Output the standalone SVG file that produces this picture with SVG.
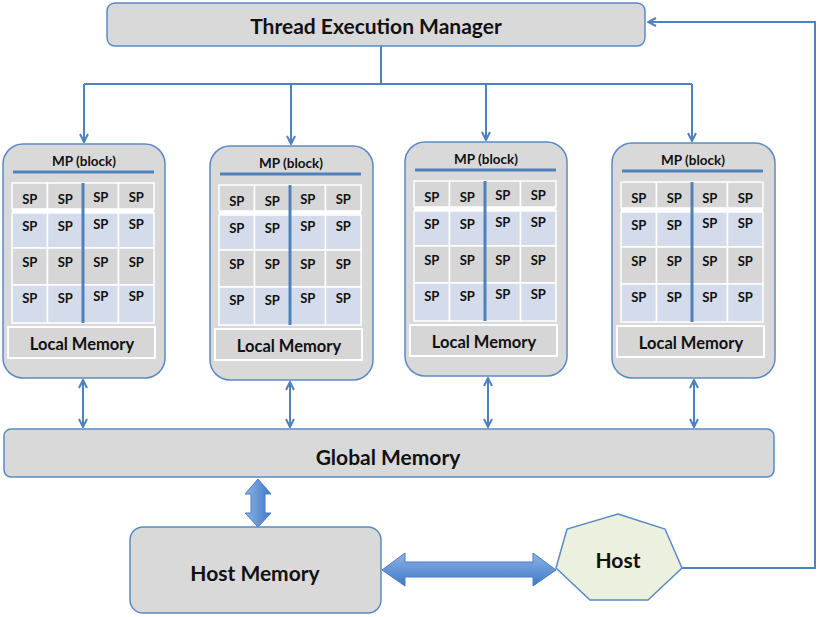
<svg xmlns="http://www.w3.org/2000/svg" width="820" height="617" viewBox="0 0 820 617">
<style>
.box{fill:#d9d9d9;stroke:#5a8ac6;stroke-width:1.5}
.t{font-family:Lato,"Liberation Sans",sans-serif;font-weight:bold;fill:#111;text-anchor:middle}
.big{font-size:21px}
.mp{font-size:13.5px}
.sp{font-size:13px}
.lm{font-size:16.5px}
.blu{stroke:#4f81bd;stroke-width:3}
.g{fill:#d6d6d6;stroke:#fff;stroke-width:1.5}
.b{fill:#d4dbea;stroke:#fff;stroke-width:1.5}
.lmb{fill:#d6d6d6;stroke:#fff;stroke-width:2}
.con{fill:none;stroke:#4f81bd;stroke-width:2}
</style>
<defs>
<marker id="ah" viewBox="0 0 10 10" refX="9" refY="5" markerWidth="10" markerHeight="10" markerUnits="userSpaceOnUse" orient="auto-start-reverse">
<path d="M1,1 L9,5 L1,9" fill="none" stroke="#4f81bd" stroke-width="2"/>
</marker>
<linearGradient id="fat" x1="0" y1="0" x2="0" y2="1">
<stop offset="0" stop-color="#8db4e6"/>
<stop offset="1" stop-color="#3f78c8"/>
</linearGradient>
<linearGradient id="fatv" x1="0" y1="0" x2="1" y2="0">
<stop offset="0" stop-color="#8db4e6"/>
<stop offset="1" stop-color="#3f78c8"/>
</linearGradient>
</defs>

<g id="connectors">
<path class="con" d="M381,46 V84"/>
<path class="con" d="M84,84 H692"/>
<path class="con" d="M84,84 V142" marker-end="url(#ah)"/>
<path class="con" d="M291,84 V144" marker-end="url(#ah)"/>
<path class="con" d="M486,84 V140" marker-end="url(#ah)"/>
<path class="con" d="M692,84 V141" marker-end="url(#ah)"/>
<path class="con" d="M83,380 V427" marker-start="url(#ah)" marker-end="url(#ah)"/>
<path class="con" d="M290,382 V427" marker-start="url(#ah)" marker-end="url(#ah)"/>
<path class="con" d="M488,378 V427" marker-start="url(#ah)" marker-end="url(#ah)"/>
<path class="con" d="M694,380 V427" marker-start="url(#ah)" marker-end="url(#ah)"/>
<path class="con" d="M682,568 H815 V22 H648" marker-end="url(#ah)"/>
<path d="M258,479 L271,494 H265 V513 H271 L258,527 L245,513 H251 V494 H245 Z" fill="url(#fatv)" stroke="#4a7cc0" stroke-width="1"/>
<path d="M382,570 L405,553 V562 H533 V553 L556,570 L533,586 V577 H405 V586 Z" fill="url(#fat)" stroke="#4a7cc0" stroke-width="1"/>
</g>

<g id="tem">
<rect class="box" x="107" y="3" width="538" height="43" rx="8"/>
<text class="t big" x="376" y="34">Thread Execution Manager</text>
</g>

<g id="mp1" transform="translate(3,144)">
<rect class="box" x="0" y="0" width="162" height="234" rx="20"/>
<text class="t mp" x="81" y="22">MP (block)</text>
<line class="blu" x1="10" y1="28" x2="151" y2="28"/>
<rect x="9" y="39" width="142" height="140" fill="#fff"/>
<rect class="g" x="9" y="39" width="35.5" height="26"/><rect class="g" x="44.5" y="39" width="35.5" height="26"/><rect class="g" x="80" y="39" width="35.5" height="26"/><rect class="g" x="115.5" y="39" width="35.5" height="26"/>
<rect class="b" x="9" y="69" width="35.5" height="35"/><rect class="b" x="44.5" y="69" width="35.5" height="35"/><rect class="b" x="80" y="69" width="35.5" height="35"/><rect class="b" x="115.5" y="69" width="35.5" height="35"/>
<rect class="g" x="9" y="104" width="35.5" height="37"/><rect class="g" x="44.5" y="104" width="35.5" height="37"/><rect class="g" x="80" y="104" width="35.5" height="37"/><rect class="g" x="115.5" y="104" width="35.5" height="37"/>
<rect class="b" x="9" y="141" width="35.5" height="38"/><rect class="b" x="44.5" y="141" width="35.5" height="38"/><rect class="b" x="80" y="141" width="35.5" height="38"/><rect class="b" x="115.5" y="141" width="35.5" height="38"/>
<line class="blu" x1="80" y1="39" x2="80" y2="179"/>
<text class="t sp" x="26.75" y="60">SP</text><text class="t sp" x="62.25" y="60">SP</text><text class="t sp" x="97.75" y="58">SP</text><text class="t sp" x="133.25" y="58">SP</text>
<text class="t sp" x="26.75" y="87">SP</text><text class="t sp" x="62.25" y="87">SP</text><text class="t sp" x="97.75" y="85">SP</text><text class="t sp" x="133.25" y="85">SP</text>
<text class="t sp" x="26.75" y="123">SP</text><text class="t sp" x="62.25" y="123">SP</text><text class="t sp" x="97.75" y="123">SP</text><text class="t sp" x="133.25" y="123">SP</text>
<text class="t sp" x="26.75" y="159">SP</text><text class="t sp" x="62.25" y="159">SP</text><text class="t sp" x="97.75" y="157">SP</text><text class="t sp" x="133.25" y="157">SP</text>
<rect class="lmb" x="5" y="183" width="147" height="31"/>
<text class="t lm" x="79" y="206">Local Memory</text>
</g>

<g id="mp2" transform="translate(210,146)">
<rect class="box" x="0" y="0" width="163" height="234" rx="20"/>
<text class="t mp" x="81" y="22">MP (block)</text>
<line class="blu" x1="10" y1="28" x2="151" y2="28"/>
<rect x="9" y="39" width="142" height="140" fill="#fff"/>
<rect class="g" x="9" y="39" width="35.5" height="26"/><rect class="g" x="44.5" y="39" width="35.5" height="26"/><rect class="g" x="80" y="39" width="35.5" height="26"/><rect class="g" x="115.5" y="39" width="35.5" height="26"/>
<rect class="b" x="9" y="69" width="35.5" height="35"/><rect class="b" x="44.5" y="69" width="35.5" height="35"/><rect class="b" x="80" y="69" width="35.5" height="35"/><rect class="b" x="115.5" y="69" width="35.5" height="35"/>
<rect class="g" x="9" y="104" width="35.5" height="37"/><rect class="g" x="44.5" y="104" width="35.5" height="37"/><rect class="g" x="80" y="104" width="35.5" height="37"/><rect class="g" x="115.5" y="104" width="35.5" height="37"/>
<rect class="b" x="9" y="141" width="35.5" height="38"/><rect class="b" x="44.5" y="141" width="35.5" height="38"/><rect class="b" x="80" y="141" width="35.5" height="38"/><rect class="b" x="115.5" y="141" width="35.5" height="38"/>
<line class="blu" x1="80" y1="39" x2="80" y2="179"/>
<text class="t sp" x="26.75" y="60">SP</text><text class="t sp" x="62.25" y="60">SP</text><text class="t sp" x="97.75" y="58">SP</text><text class="t sp" x="133.25" y="58">SP</text>
<text class="t sp" x="26.75" y="87">SP</text><text class="t sp" x="62.25" y="87">SP</text><text class="t sp" x="97.75" y="85">SP</text><text class="t sp" x="133.25" y="85">SP</text>
<text class="t sp" x="26.75" y="123">SP</text><text class="t sp" x="62.25" y="123">SP</text><text class="t sp" x="97.75" y="123">SP</text><text class="t sp" x="133.25" y="123">SP</text>
<text class="t sp" x="26.75" y="159">SP</text><text class="t sp" x="62.25" y="159">SP</text><text class="t sp" x="97.75" y="157">SP</text><text class="t sp" x="133.25" y="157">SP</text>
<rect class="lmb" x="5" y="183" width="147" height="31"/>
<text class="t lm" x="79" y="206">Local Memory</text>
</g>

<g id="mp3" transform="translate(405,142)">
<rect class="box" x="0" y="0" width="162" height="234" rx="20"/>
<text class="t mp" x="81" y="22">MP (block)</text>
<line class="blu" x1="10" y1="28" x2="151" y2="28"/>
<rect x="9" y="39" width="142" height="140" fill="#fff"/>
<rect class="g" x="9" y="39" width="35.5" height="26"/><rect class="g" x="44.5" y="39" width="35.5" height="26"/><rect class="g" x="80" y="39" width="35.5" height="26"/><rect class="g" x="115.5" y="39" width="35.5" height="26"/>
<rect class="b" x="9" y="69" width="35.5" height="35"/><rect class="b" x="44.5" y="69" width="35.5" height="35"/><rect class="b" x="80" y="69" width="35.5" height="35"/><rect class="b" x="115.5" y="69" width="35.5" height="35"/>
<rect class="g" x="9" y="104" width="35.5" height="37"/><rect class="g" x="44.5" y="104" width="35.5" height="37"/><rect class="g" x="80" y="104" width="35.5" height="37"/><rect class="g" x="115.5" y="104" width="35.5" height="37"/>
<rect class="b" x="9" y="141" width="35.5" height="38"/><rect class="b" x="44.5" y="141" width="35.5" height="38"/><rect class="b" x="80" y="141" width="35.5" height="38"/><rect class="b" x="115.5" y="141" width="35.5" height="38"/>
<line class="blu" x1="80" y1="39" x2="80" y2="179"/>
<text class="t sp" x="26.75" y="60">SP</text><text class="t sp" x="62.25" y="60">SP</text><text class="t sp" x="97.75" y="58">SP</text><text class="t sp" x="133.25" y="58">SP</text>
<text class="t sp" x="26.75" y="87">SP</text><text class="t sp" x="62.25" y="87">SP</text><text class="t sp" x="97.75" y="85">SP</text><text class="t sp" x="133.25" y="85">SP</text>
<text class="t sp" x="26.75" y="123">SP</text><text class="t sp" x="62.25" y="123">SP</text><text class="t sp" x="97.75" y="123">SP</text><text class="t sp" x="133.25" y="123">SP</text>
<text class="t sp" x="26.75" y="159">SP</text><text class="t sp" x="62.25" y="159">SP</text><text class="t sp" x="97.75" y="157">SP</text><text class="t sp" x="133.25" y="157">SP</text>
<rect class="lmb" x="5" y="183" width="147" height="31"/>
<text class="t lm" x="79" y="206">Local Memory</text>
</g>

<g id="mp4" transform="translate(612,143)">
<rect class="box" x="0" y="0" width="163" height="235" rx="20"/>
<text class="t mp" x="81" y="22">MP (block)</text>
<line class="blu" x1="10" y1="28" x2="151" y2="28"/>
<rect x="9" y="39" width="142" height="140" fill="#fff"/>
<rect class="g" x="9" y="39" width="35.5" height="26"/><rect class="g" x="44.5" y="39" width="35.5" height="26"/><rect class="g" x="80" y="39" width="35.5" height="26"/><rect class="g" x="115.5" y="39" width="35.5" height="26"/>
<rect class="b" x="9" y="69" width="35.5" height="35"/><rect class="b" x="44.5" y="69" width="35.5" height="35"/><rect class="b" x="80" y="69" width="35.5" height="35"/><rect class="b" x="115.5" y="69" width="35.5" height="35"/>
<rect class="g" x="9" y="104" width="35.5" height="37"/><rect class="g" x="44.5" y="104" width="35.5" height="37"/><rect class="g" x="80" y="104" width="35.5" height="37"/><rect class="g" x="115.5" y="104" width="35.5" height="37"/>
<rect class="b" x="9" y="141" width="35.5" height="38"/><rect class="b" x="44.5" y="141" width="35.5" height="38"/><rect class="b" x="80" y="141" width="35.5" height="38"/><rect class="b" x="115.5" y="141" width="35.5" height="38"/>
<line class="blu" x1="80" y1="39" x2="80" y2="179"/>
<text class="t sp" x="26.75" y="60">SP</text><text class="t sp" x="62.25" y="60">SP</text><text class="t sp" x="97.75" y="60">SP</text><text class="t sp" x="133.25" y="60">SP</text>
<text class="t sp" x="26.75" y="87">SP</text><text class="t sp" x="62.25" y="87">SP</text><text class="t sp" x="97.75" y="85">SP</text><text class="t sp" x="133.25" y="85">SP</text>
<text class="t sp" x="26.75" y="123">SP</text><text class="t sp" x="62.25" y="123">SP</text><text class="t sp" x="97.75" y="123">SP</text><text class="t sp" x="133.25" y="123">SP</text>
<text class="t sp" x="26.75" y="159">SP</text><text class="t sp" x="62.25" y="159">SP</text><text class="t sp" x="97.75" y="159">SP</text><text class="t sp" x="133.25" y="159">SP</text>
<rect class="lmb" x="5" y="183" width="147" height="31"/>
<text class="t lm" x="79" y="206">Local Memory</text>
</g>

<g id="global">
<rect class="box" x="4" y="429" width="770" height="48" rx="7"/>
<text class="t big" x="388" y="465">Global Memory</text>
</g>

<g id="hostmem">
<rect class="box" x="130" y="527" width="251" height="86" rx="13"/>
<text class="t big" x="255" y="581">Host Memory</text>
</g>

<g id="host">
<polygon points="618,514 665,529 682,568 648,600 590,600 556,568 567,529" fill="#ebf1de" stroke="#5a8ac6" stroke-width="1.5"/>
<text class="t big" x="618" y="568">Host</text>
</g>
</svg>
